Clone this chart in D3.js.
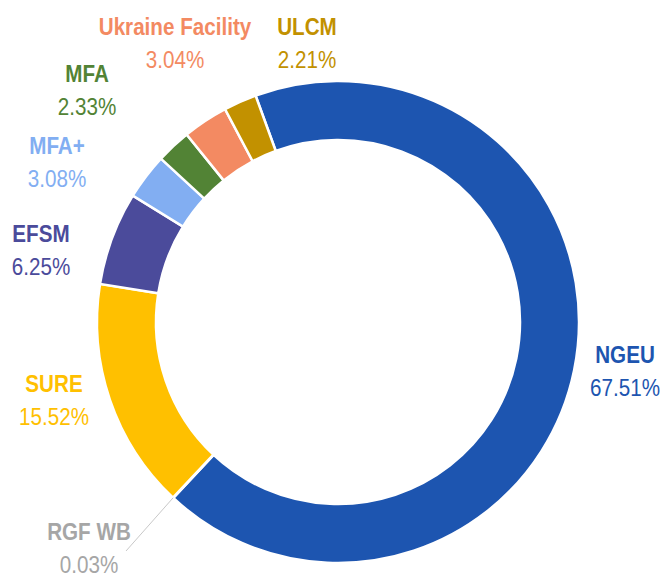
<!DOCTYPE html>
<html>
<head>
<meta charset="utf-8">
<script src="https://cdn.jsdelivr.net/npm/d3@7"></script>
<style>
  body { margin: 0; background: #fff; }
  text { font-family: "Liberation Sans", Arial, sans-serif; }
</style>
</head>
<body>
<div id="chart"></div>
<script>
// data
const names = ["NGEU", "RGF WB", "SURE", "EFSM", "MFA+", "MFA", "Ukraine Facility", "ULCM"];
const shares = [67.51, 0.03, 15.52, 6.25, 3.08, 2.33, 3.04, 2.21];
const colors = ["#1d55b0", "#a6a6a6", "#ffc000", "#4b4b9b", "#82aef2", "#528335", "#f38a62", "#c29100"];

let w = 667, h = 579;
let cx = 338, cy = 322;
let outerR = 241, innerR = 182;

// where each label sits (center x, baseline of the name)
let labelPos = {
    "NGEU": [625, 363],
    "RGF WB": [89, 540],
    "SURE": [54, 392],
    "EFSM": [41, 242],
    "MFA+": [57, 154],
    "MFA": [87, 82],
    "Ukraine Facility": [175, 35],
    "ULCM": [307, 35]
};

const data = names.map((n, i) => ({name: n, value: shares[i], color: colors[i]}));

const svg = d3.select("#chart")
    .append("svg")
    .attr("width", w)
    .attr("height", h);

const g = svg.append("g")
    .attr("transform", `translate(${cx},${cy})`);

let start = -20 * Math.PI / 180;
let pie = d3.pie()
    .value(d => d.value)
    .sort(null)
    .startAngle(start)
    .endAngle(start + 2 * Math.PI);

let arc = d3.arc()
    .innerRadius(innerR)
    .outerRadius(outerR);

const arcs = pie(data);

g.selectAll("path.slice")
    .data(arcs)
    .enter()
    .append("path")
    .attr("class", "slice")
    .attr("d", arc)
    .style("fill", d => d.data.color)
    .style("stroke", "#fff")
    .style("stroke-width", 2.5);

// leader line for the tiny slice
let tiny = arcs.find(d => d.data.name == "RGF WB");
let a = (tiny.startAngle + tiny.endAngle) / 2;
let p0 = [cx + outerR * Math.sin(a), cy - outerR * Math.cos(a)];
svg.append("line")
    .attr("x1", p0[0])
    .attr("y1", p0[1])
    .attr("x2", 126)
    .attr("y2", 551)
    .style("stroke", "#c8c8c8")
    .style("stroke-width", 1);

// labels (squeezed a bit to look like the narrow original face)
arcs.forEach(d => {
    let [lx, ly] = labelPos[d.data.name];
    svg.append("text")
        .attr("transform", `translate(${lx},${ly}) scale(0.86,1)`)
        .attr("text-anchor", "middle")
        .style("font-size", "24px")
        .style("font-weight", "bold")
        .style("fill", d.data.color)
        .text(d.data.name);
    svg.append("text")
        .attr("transform", `translate(${lx},${ly + 33}) scale(0.86,1)`)
        .attr("text-anchor", "middle")
        .style("font-size", "24px")
        .style("fill", d.data.color)
        .text(d.data.value.toFixed(2) + "%");
});
</script>
</body>
</html>
